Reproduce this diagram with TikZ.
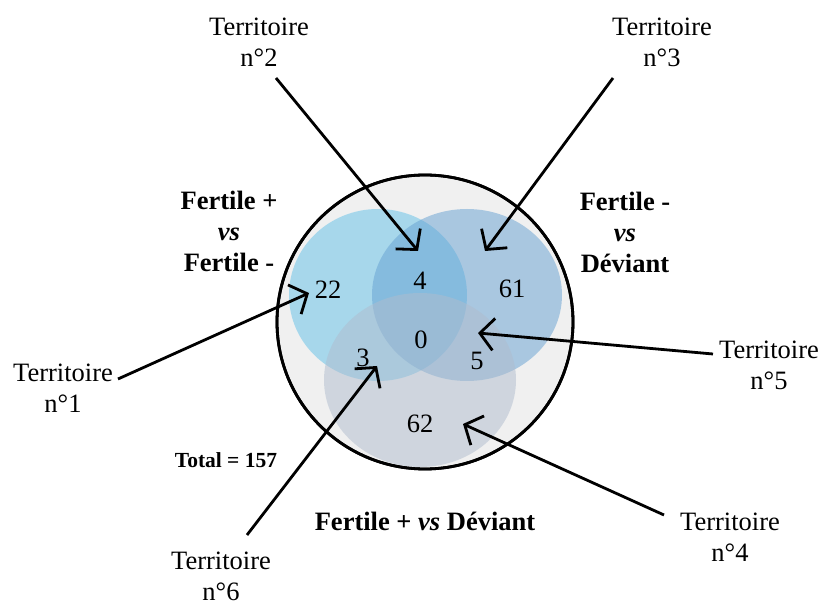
\documentclass[tikz,border=0pt]{standalone}
\usepackage{fontspec}
\setmainfont{Liberation Serif}
\usetikzlibrary{arrows.meta}
\definecolor{bigfill}{RGB}{240,240,240}
\definecolor{cA}{RGB}{95,192,232}
\definecolor{cB}{RGB}{100,160,210}
\definecolor{cC}{RGB}{175,188,206}
\tikzset{
  lbl/.style={font=\fontsize{26.5}{31}\selectfont, align=center, inner sep=0pt},
  blbl/.style={font=\fontsize{26.5}{31}\selectfont\bfseries, align=center, inner sep=0pt},
  num/.style={font=\fontsize{26.5}{30}\selectfont, inner sep=0pt},
  arr/.style={line width=2.8pt, -{Straight Barb[length=14pt,width=32pt,line width=2.8pt]}},
}
\begin{document}
\begin{tikzpicture}[x=1pt,y=-1pt]
\useasboundingbox (0,0) rectangle (823,601);
% big circle
\draw[line width=2.8pt, fill=bigfill] (425,322) ellipse [x radius=148, y radius=147];
% set ellipses
\fill[cA, opacity=0.5] (378,295) ellipse [x radius=89, y radius=86];
\fill[cB, opacity=0.5] (467,295) ellipse [x radius=95, y radius=86];
\fill[cC, opacity=0.5] (420,380) ellipse [x radius=96, y radius=87];
\draw[line width=2.8pt] (425,322) ellipse [x radius=148, y radius=147];
% numbers
\node[num] (n22) at (328,290) {22};
\node[num] (n4) at (420,281) {4};
\node[num] (n61) at (512,289) {61};
\node[num] (n0) at (421,340) {0};
\node[num] (n3) at (363,358) {3};
\node[num] (n5) at (477,361) {5};
\node[num] (n62) at (420,424) {62};
% labels
\node[lbl] (t2) at (259,42) {Territoire\\n°2};
\node[lbl] (t3) at (662,42) {Territoire\\n°3};
\node[lbl] (t1) at (63,388) {Territoire\\n°1};
\node[lbl] (t5) at (769,365) {Territoire\\n°5};
\node[lbl] (t4) at (730,537) {Territoire\\n°4};
\node[lbl] (t6) at (221,576) {Territoire\\n°6};
\node[blbl] (g1) at (229,231) {Fertile +\\\textit{vs}\\Fertile -};
\node[blbl] (g2) at (625,232) {Fertile -\\\textit{vs}\\Déviant};
\node[blbl] (g3) at (425,521) {Fertile + \textit{vs} Déviant};
\node[font=\fontsize{21.5}{25}\selectfont\bfseries, inner sep=0pt] (tot) at (226,460) {Total = 157};
% arrow endpoints
\coordinate (s2) at (276,78);
\coordinate (e2) at (418,251);
\coordinate (s3) at (613,78);
\coordinate (e3) at (485,251);
\coordinate (s1) at (118,379);
\coordinate (e1) at (309,293);
\coordinate (s5) at (713,354);
\coordinate (e5) at (478,333);
\coordinate (s4) at (664,515);
\coordinate (e4) at (463,424);
\coordinate (s6) at (247,535);
\coordinate (e6) at (377,366);
\draw[arr] (s2) -- (e2);
\draw[arr] (s3) -- (e3);
\draw[arr] (s1) -- (e1);
\draw[arr] (s5) -- (e5);
\draw[arr] (s4) -- (e4);
\draw[arr] (s6) -- (e6);
\end{tikzpicture}
\end{document}
